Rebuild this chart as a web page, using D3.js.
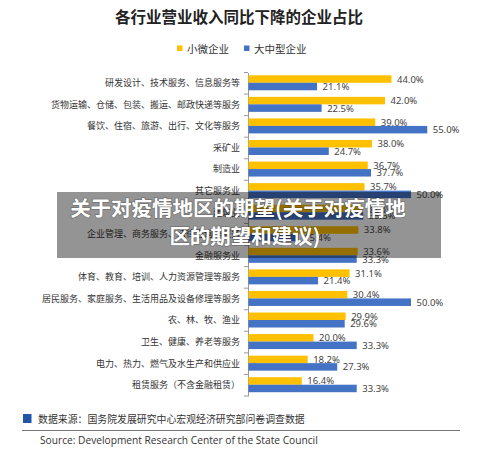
<!DOCTYPE html>
<html>
<head>
<meta charset="utf-8">
<script src="https://cdn.jsdelivr.net/npm/d3@7"></script>
<style>
  body { margin: 0; background: #fff; }
  svg { display: block; font-family: "Noto Sans CJK SC", "Noto Sans", sans-serif; }
</style>
</head>
<body>
<div id="chart"></div>
<script>
// data
let categories = [
    "研发设计、技术服务、信息服务等",
    "货物运输、仓储、包装、搬运、邮政快递等服务",
    "餐饮、住宿、旅游、出行、文化等服务",
    "采矿业",
    "制造业",
    "其它服务业",
    "建筑业",
    "企业管理、商务服务、法律咨询等服务",
    "金融服务业",
    "体育、教育、培训、人力资源管理等服务",
    "居民服务、家庭服务、生活用品及设备修理等服务",
    "农、林、牧、渔业",
    "卫生、健康、养老等服务",
    "电力、热力、燃气及水生产和供应业",
    "租赁服务（不含金融租赁）"
];
let small = [44.0, 42.0, 39.0, 38.0, 36.7, 35.7, 34.8, 33.8, 33.6, 31.1, 30.4, 29.9, 20.0, 18.2, 16.4];
let large = [21.1, 22.5, 55.0, 24.7, 37.7, 50.0, 35.3, 15.4, 33.3, 21.4, 50.0, 29.6, 33.3, 27.3, 33.3];
let seriesNames = ["小微企业", "大中型企业"];
let colors = ["#FFC000", "#4472C4"];

let w = 500, h = 452;

let svg = d3.select("#chart")
    .append("svg")
    .attr("width", w)
    .attr("height", h);

// title
svg.append("text")
    .attr("x", 239)
    .attr("y", 23)
    .attr("text-anchor", "middle")
    .style("font-size", "15.5px")
    .style("font-weight", "bold")
    .style("fill", "#222")
    .text("各行业营业收入同比下降的企业占比");

// legend
let legendX = [177, 244];
seriesNames.forEach((name, i) => {
    svg.append("rect")
        .attr("x", legendX[i])
        .attr("y", 45.5)
        .attr("width", 5.5)
        .attr("height", 5.5)
        .style("fill", colors[i]);
    svg.append("text")
        .attr("x", legendX[i] + 10)
        .attr("y", 52.5)
        .style("font-size", "10.5px")
        .style("fill", "#333")
        .text(name);
});

let x = d3.scaleLinear()
    .domain([0, 60])
    .range([248, 443]);

let y = d3.scaleBand()
    .domain(categories)
    .range([72.5, 396]);

let sub = d3.scaleBand()
    .domain(["small", "large"])
    .range([y.bandwidth() / 2 - 8, y.bandwidth() / 2 + 7]);

let rows = categories.map((c, i) => {
    return {name: c, small: small[i], large: large[i]};
});

// category axis
let axis = svg.append("g")
    .attr("transform", "translate(" + x(0) + ",0)")
    .call(d3.axisLeft(y).tickSize(0).tickPadding(8));
axis.select(".domain").attr("stroke", "#999");
axis.selectAll("text")
    .style("font-size", "9px")
    .style("fill", "#333")
    .style("font-family", "'Noto Sans CJK SC', sans-serif");

// boundary ticks
let bounds = categories.map((c) => y(c)).concat([y.range()[1]]);
svg.selectAll(".btick")
    .data(bounds)
    .enter()
    .append("line")
    .attr("class", "btick")
    .attr("x1", x(0) - 4)
    .attr("x2", x(0))
    .attr("y1", (d) => d)
    .attr("y2", (d) => d)
    .attr("stroke", "#999");

let groups = svg.selectAll(".row")
    .data(rows)
    .enter()
    .append("g")
    .attr("class", "row")
    .attr("transform", (d) => "translate(0," + y(d.name) + ")");

["small", "large"].forEach((key, i) => {
    groups.append("rect")
        .attr("x", x(0) + 0.5)
        .attr("y", sub(key))
        .attr("width", (d) => x(d[key]) - x(0))
        .attr("height", sub.bandwidth())
        .style("fill", colors[i]);

    groups.append("text")
        .attr("x", (d) => x(d[key]) + 6)
        .attr("y", sub(key) + sub.bandwidth() / 2 + 3.5)
        .style("font-size", "9.5px")
        .style("fill", "#444")
        .style("font-family", "'Noto Sans', sans-serif")
        .text((d) => d[key].toFixed(1) + "%");
});

// source block
svg.append("rect")
    .attr("x", 23)
    .attr("y", 414)
    .attr("width", 8.5)
    .attr("height", 9)
    .style("fill", "#2155a8");
svg.append("text")
    .attr("x", 38)
    .attr("y", 422.5)
    .style("font-size", "9.9px")
    .style("fill", "#333")
    .text("数据来源：国务院发展研究中心宏观经济研究部问卷调查数据");
svg.append("line")
    .attr("x1", 22)
    .attr("x2", 460)
    .attr("y1", 430.5)
    .attr("y2", 430.5)
    .attr("stroke", "#777")
    .attr("stroke-width", 1);
svg.append("text")
    .attr("x", 40)
    .attr("y", 444)
    .style("font-size", "10.2px")
    .style("fill", "#333")
    .style("font-family", "'Open Sans', sans-serif")
    .text("Source: Development Research Center of the State Council");

// overlay caption
svg.append("rect")
    .attr("x", 57)
    .attr("y", 192)
    .attr("width", 384)
    .attr("height", 66)
    .style("fill", "rgba(0,0,0,0.42)");

let caption = ["关于对疫情地区的期望(关于对疫情地", "区的期望和建议)"];
svg.selectAll(".cap")
    .data(caption)
    .enter()
    .append("text")
    .attr("class", "cap")
    .attr("x", (d, i) => i === 0 ? 238 : 245)
    .attr("y", (d, i) => 216 + i * 28)
    .attr("text-anchor", "middle")
    .style("font-size", "20.5px")
    .style("font-weight", "bold")
    .style("fill", "#fff")
    .style("paint-order", "stroke")
    .style("stroke", "rgba(0,0,0,0.25)")
    .style("stroke-width", "1.5px")
    .text((d) => d);
</script>
</body>
</html>
